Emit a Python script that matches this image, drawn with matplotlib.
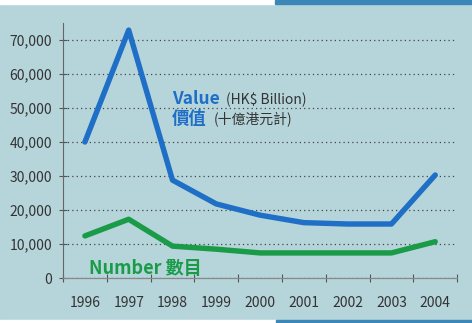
import matplotlib.pyplot as plt
from matplotlib.ticker import FixedLocator, FuncFormatter
from matplotlib.patches import Rectangle

plt.rcParams['font.family'] = ['Noto Sans CJK TC', 'DejaVu Sans']

years = [1996, 1997, 1998, 1999, 2000, 2001, 2002, 2003, 2004]
value_hkd_bn = [40000, 72900, 28800, 21800, 18500, 16300, 15900, 15900, 30300]
number = [12400, 17300, 9400, 8500, 7400, 7400, 7400, 7400, 10700]
y_ticks = [0, 10000, 20000, 30000, 40000, 50000, 60000, 70000]

bg = '#b6d5db'
blue = '#1f6fc6'
green = '#1a9b48'
grey = '#333333'

fig = plt.figure(figsize=(4.72, 3.23), dpi=100, facecolor=bg)

# strips at top and bottom edges
fig.patches.append(Rectangle((0, 0.988), 0.583, 0.012, transform=fig.transFigure, color='white', zorder=0))
fig.patches.append(Rectangle((0.583, 0.988), 0.417, 0.012, transform=fig.transFigure, color='#3d86b8', zorder=0))
fig.patches.append(Rectangle((0, 0), 0.585, 0.008, transform=fig.transFigure, color='white', zorder=0))
fig.patches.append(Rectangle((0.585, 0), 0.415, 0.008, transform=fig.transFigure, color='#3d86b8', zorder=0))

ax = fig.add_axes([0.1335, 0.139, 0.835, 0.79])
ax.set_facecolor(bg)

ax.plot(years, value_hkd_bn, color=blue, lw=3.9, solid_joinstyle='round', solid_capstyle='round', zorder=3)
ax.plot(years, number, color=green, lw=3.9, solid_joinstyle='round', solid_capstyle='round', zorder=3)

ax.set_xlim(1995.5, 2004.5)
ax.set_ylim(0, 75000)

# ticks at the gaps between years, labels under the years
ax.xaxis.set_major_locator(FixedLocator([y - 0.5 for y in years] + [2004.5]))
ax.xaxis.set_major_formatter(FuncFormatter(lambda v, p: ''))
ax.xaxis.set_minor_locator(FixedLocator(years))
ax.xaxis.set_minor_formatter(FuncFormatter(lambda v, p: str(int(round(v)))))
ax.tick_params(axis='x', which='major', direction='inout', length=6, width=0.8, color='#555555')
ax.tick_params(axis='x', which='minor', length=0, pad=13, labelsize=10, labelcolor=grey)

ax.yaxis.set_major_locator(FixedLocator(y_ticks))
ax.yaxis.set_major_formatter(FuncFormatter(lambda v, p: '{:,.0f}'.format(v)))
ax.tick_params(axis='y', direction='inout', length=6, width=0.8, color='#555555', labelsize=10, labelcolor=grey, pad=5)

ax.grid(axis='y', linestyle=(0, (1, 2.5)), color='#444444', lw=0.9)
for s in ['top', 'right']:
    ax.spines[s].set_visible(False)
ax.spines['left'].set_linestyle((0, (2, 1)))
ax.spines['left'].set_color('#666666')
ax.spines['left'].set_linewidth(0.8)
ax.spines['bottom'].set_color('#888888')
ax.spines['bottom'].set_linewidth(0.9)

# series labels
ax.text(1997.98, 51200, 'Value', color=blue, fontsize=12.5, fontweight='bold', va='baseline')
ax.text(1999.22, 51200, '(HK$ Billion)', color=grey, fontsize=10, va='baseline')
ax.text(1997.98, 45300, '價值', color=blue, fontsize=12.5, fontweight='bold', va='baseline')
ax.text(1998.95, 45300, '(十億港元計)', color=grey, fontsize=10, va='baseline')
ax.text(1996.1, 1200, 'Number 數目', color=green, fontsize=13, fontweight='bold', va='baseline')

fig.savefig('out.png', dpi=100, facecolor=bg)
